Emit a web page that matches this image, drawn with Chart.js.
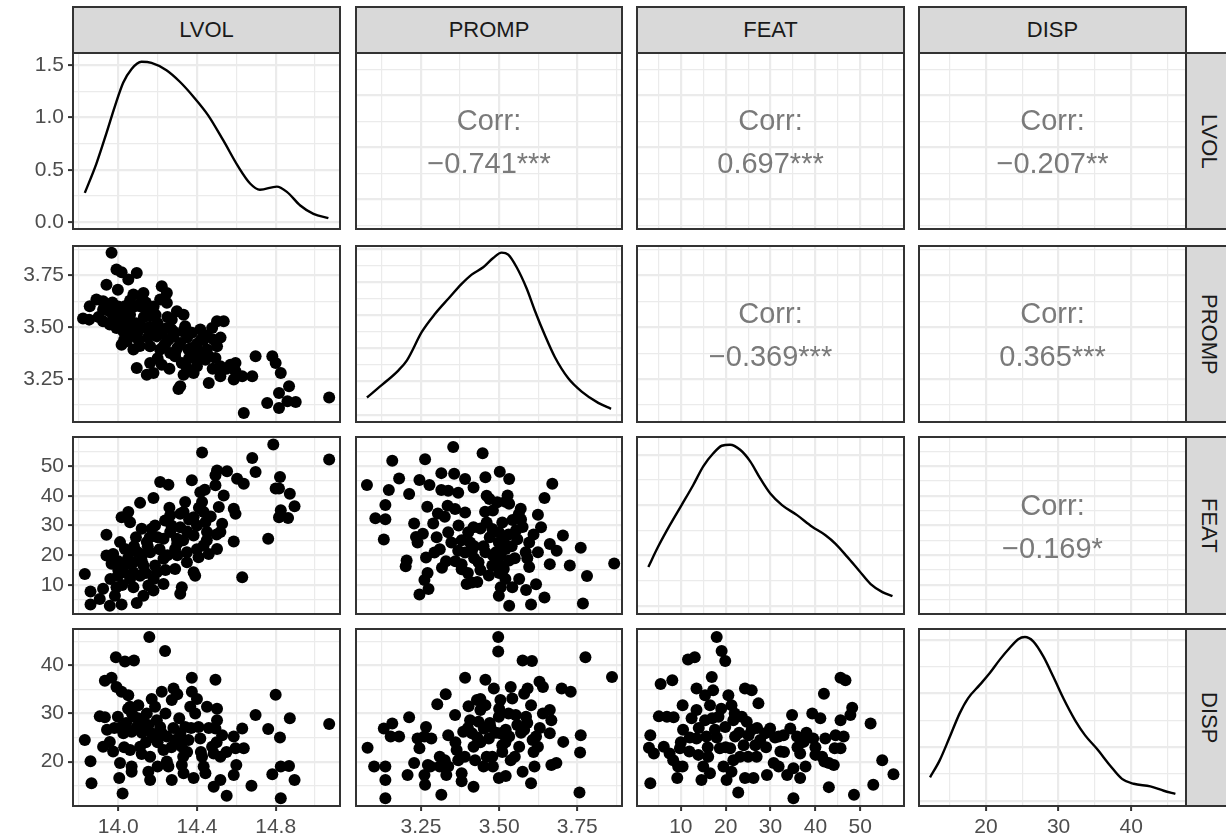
<!DOCTYPE html>
<html>
<head>
<meta charset="utf-8">
<script src="https://cdn.jsdelivr.net/npm/chart.js@4.4.0/dist/chart.umd.min.js"></script>
<style>
  body { margin: 0; background: #fff; }
  #wrap { position: relative; width: 1226px; height: 840px; overflow: hidden; font-family: "Liberation Sans", Arial, sans-serif; }
  canvas { position: absolute; }
  .strip { position: absolute; background: #d9d9d9; border: 2px solid #333; box-sizing: border-box; color: #1a1a1a;
           font-size: 22px; display: flex; align-items: center; justify-content: center; }
  .vstrip { writing-mode: vertical-rl; }
  .corr { position: absolute; color: #7a7a7a; font-size: 29px; text-align: center; line-height: 43px; }
</style>
</head>
<body>
<div id="wrap"></div>
<script>
const vars = ['LVOL', 'PROMP', 'FEAT', 'DISP'];

// axis ranges and ticks
const lvolRange = [13.77, 15.127];
const lvolMajor = [14.0, 14.4, 14.8];
const lvolLabels = ['14.0', '14.4', '14.8'];
const lvolMinor = [13.8, 14.2, 14.6, 15.0];

const prompRange = [3.042, 3.893];
const prompMajor = [3.25, 3.5, 3.75];
const prompLabels = ['3.25', '3.50', '3.75'];
const prompMinor = [3.125, 3.375, 3.625, 3.875];

const featRange = [0.23, 59.75];
const featMajor = [10, 20, 30, 40, 50];
const featLabels = ['10', '20', '30', '40', '50'];
const featMinor = [5, 15, 25, 35, 45, 55];

const dispRange = [10.78, 47.55];
const dispMajor = [20, 30, 40];
const dispLabels = ['20', '30', '40'];
const dispMinor = [15, 25, 35, 45];

// density y axes (diagonal)
const lvolDensRange = [-0.064, 1.614];
const lvolDensMajor = [0, 0.5, 1.0, 1.5];
const lvolDensLabels = ['0.0', '0.5', '1.0', '1.5'];
const lvolDensMinor = [0.25, 0.75, 1.25];

const prompDensRange = [-0.108, 2.54];
const prompDensMajor = [0, 0.5, 1.0, 1.5, 2.0, 2.5];
const prompDensMinor = [0.25, 0.75, 1.25, 1.75, 2.25];

const featDensRange = [-0.00166, 0.03354];
const featDensMajor = [0, 0.01, 0.02, 0.03];
const featDensMinor = [0.005, 0.015, 0.025];

const dispDensRange = [-0.00094, 0.032];
const dispDensMajor = [0, 0.01, 0.02, 0.03];
const dispDensMinor = [0.005, 0.015, 0.025];

// density curves
const lvolDensX = [13.830,13.889,13.940,13.982,14.025,14.067,14.118,14.169,14.245,14.313,14.381,14.457,14.534,14.610,14.670,14.720,14.806,14.857,14.925,14.992,15.068];
const lvolDensY = [0.28,0.56,0.85,1.10,1.33,1.46,1.53,1.52,1.45,1.34,1.20,1.02,0.78,0.53,0.37,0.31,0.34,0.29,0.16,0.08,0.04];

const prompDensX = [3.077,3.125,3.178,3.205,3.253,3.295,3.338,3.380,3.412,3.449,3.481,3.508,3.529,3.556,3.588,3.614,3.646,3.678,3.721,3.764,3.817,3.858];
const prompDensY = [0.26,0.45,0.67,0.82,1.25,1.52,1.75,1.97,2.11,2.22,2.36,2.44,2.41,2.22,1.90,1.57,1.20,0.87,0.55,0.35,0.18,0.09];

const featDensX = [2.76,4.93,7.55,10.17,12.77,15.0,17.24,19.12,20.98,23.22,25.46,27.7,29.94,32.56,35.91,39.27,42.25,44.49,47.11,49.70,52.32,54.94,57.18];
const featDensY = [0.0077,0.0117,0.016,0.020,0.024,0.0277,0.0303,0.0318,0.0320,0.0310,0.0287,0.0253,0.0223,0.020,0.018,0.0157,0.014,0.0123,0.0097,0.007,0.0043,0.0027,0.0019];

const dispDensX = [12.30,13.61,14.98,16.38,17.53,19.14,20.53,21.91,23.29,24.44,25.36,26.51,27.90,29.28,30.66,32.28,33.66,35.28,37.09,38.74,40.34,42.64,44.49,46.09];
const dispDensY = [0.0044,0.0075,0.0118,0.0163,0.0191,0.0216,0.0238,0.0263,0.0285,0.0301,0.0305,0.0297,0.0269,0.0231,0.0191,0.015,0.0122,0.0097,0.0066,0.0041,0.0032,0.0027,0.0019,0.0013];

// scatter pairs [x, y]
const lvolPromp = [[13.966,3.860],[13.991,3.779],[14.017,3.766],[14.051,3.731],[14.094,3.763],[13.940,3.706],[13.998,3.682],[13.889,3.634],[13.855,3.602],[13.923,3.626],[13.821,3.542],[13.852,3.537],[13.923,3.585],[13.923,3.529],[13.974,3.553],[13.991,3.497],[14.034,3.602],[14.060,3.561],[14.077,3.658],[14.128,3.666],[14.111,3.602],[14.145,3.585],[14.162,3.553],[14.213,3.634],[14.221,3.698],[14.247,3.666],[14.247,3.618],[14.068,3.521],[14.111,3.513],[14.145,3.497],[14.179,3.489],[14.026,3.481],[14.060,3.456],[14.017,3.416],[14.077,3.392],[14.102,3.440],[14.162,3.408],[14.162,3.327],[14.094,3.303],[14.145,3.271],[14.179,3.279],[14.221,3.319],[14.230,3.408],[14.247,3.497],[14.272,3.537],[14.298,3.577],[14.332,3.561],[14.281,3.456],[14.315,3.424],[14.264,3.376],[14.289,3.360],[14.340,3.505],[14.374,3.473],[14.417,3.489],[14.434,3.440],[14.323,3.327],[14.349,3.303],[14.383,3.279],[14.332,3.271],[14.315,3.215],[14.306,3.202],[14.357,3.392],[14.400,3.392],[14.451,3.392],[14.443,3.343],[14.485,3.440],[14.502,3.408],[14.477,3.497],[14.502,3.529],[14.536,3.529],[14.494,3.352],[14.519,3.311],[14.460,3.231],[14.519,3.263],[14.570,3.319],[14.596,3.327],[14.596,3.287],[14.587,3.247],[14.630,3.263],[14.681,3.263],[14.698,3.360],[14.638,3.085],[14.783,3.360],[14.800,3.327],[14.826,3.279],[14.757,3.134],[14.817,3.182],[14.817,3.110],[14.868,3.215],[14.860,3.142],[14.902,3.139],[15.072,3.161],[14.043,3.432],[13.957,3.513],[13.983,3.561],[14.196,3.456],[14.213,3.392],[14.417,3.360],[14.400,3.311],[14.255,3.440],[14.00,3.60],[14.03,3.54],[14.08,3.60],[14.13,3.55],[14.05,3.50],[14.10,3.48],[14.15,3.45],[14.20,3.52],[14.18,3.60],[14.25,3.55],[14.35,3.45],[14.30,3.40],[14.40,3.42],[14.45,3.46],[14.26,3.30],[14.36,3.35],[13.95,3.58],[14.12,3.63],[13.90,3.55],[13.93,3.60],[13.97,3.62],[14.02,3.57],[14.06,3.63],[14.09,3.52],[14.14,3.62],[14.16,3.50],[14.19,3.56],[14.22,3.47],[14.24,3.42],[14.27,3.49],[14.29,3.38],[14.33,3.48],[14.37,3.40],[14.39,3.36],[14.42,3.44],[14.46,3.36],[14.48,3.30],[14.52,3.45],[14.55,3.30],[14.03,3.44],[14.07,3.46],[14.11,3.41],[14.00,3.52],[14.20,3.35],[14.28,3.48]];

const lvolFeat = [[13.830,13.7],[13.859,7.8],[13.859,3.4],[13.906,5.3],[13.923,8.7],[13.957,3.0],[13.983,6.4],[14.017,3.4],[14.094,3.9],[13.991,9.2],[13.998,13.1],[13.940,19.9],[13.966,17.1],[13.974,20.4],[14.009,24.4],[13.940,26.9],[14.017,32.8],[14.051,34.5],[14.060,31.1],[14.111,37.6],[14.034,22.1],[14.068,21.6],[14.077,17.6],[14.077,14.3],[14.077,9.2],[14.111,13.1],[14.128,6.4],[14.153,9.8],[14.119,28.9],[14.145,24.4],[14.162,21.0],[14.170,28.9],[14.187,30.0],[14.187,16.5],[14.196,14.3],[14.179,39.2],[14.213,44.6],[14.255,43.7],[14.230,10.3],[14.230,18.8],[14.230,25.5],[14.238,31.7],[14.264,33.4],[14.264,27.8],[14.289,22.1],[14.289,15.4],[14.298,25.5],[14.315,29.4],[14.315,33.9],[14.323,9.2],[14.315,7.0],[14.332,34.5],[14.340,37.9],[14.349,21.0],[14.349,17.6],[14.374,45.2],[14.383,32.8],[14.383,26.6],[14.383,14.3],[14.391,13.1],[14.408,19.3],[14.417,41.2],[14.426,54.5],[14.426,37.9],[14.434,34.5],[14.443,31.1],[14.451,27.8],[14.434,23.3],[14.460,20.4],[14.494,46.9],[14.502,48.5],[14.494,43.5],[14.502,22.1],[14.511,36.2],[14.519,27.8],[14.528,30.6],[14.536,40.1],[14.553,48.2],[14.587,35.6],[14.596,33.9],[14.587,24.6],[14.604,45.7],[14.638,44.0],[14.630,12.6],[14.681,52.7],[14.698,48.0],[14.762,25.5],[14.788,57.2],[14.822,46.3],[14.817,42.4],[14.800,42.4],[14.826,35.1],[14.817,32.8],[14.863,32.5],[14.872,40.7],[14.896,36.5],[15.072,52.2],[14.179,8.1],[14.026,14.3],[14.128,16.5],[14.05,19],[14.10,21],[14.12,18],[14.15,23],[14.20,26],[14.25,20],[14.30,24],[14.35,28],[14.40,30],[14.45,25],[14.00,18],[14.06,12],[13.96,12],[14.00,15],[14.04,17],[14.08,23],[14.12,20],[14.14,14],[14.16,26],[14.21,22],[14.24,15],[14.27,30],[14.33,25],[14.36,32],[14.41,36],[14.44,42],[14.47,33],[14.50,27],[14.40,22],[14.02,10],[14.09,26],[14.18,12],[14.26,36],[14.30,20]];

const prompFeat = [[3.077,43.6],[3.158,51.8],[3.180,45.8],[3.147,41.9],[3.136,36.9],[3.104,32.4],[3.136,32.1],[3.131,25.3],[3.212,40.6],[3.245,45.3],[3.263,52.3],[3.277,43.6],[3.228,30.7],[3.270,36.3],[3.289,30.7],[3.304,34.0],[3.315,47.6],[3.353,56.4],[3.356,47.4],[3.315,41.9],[3.337,41.7],[3.369,41.0],[3.335,36.6],[3.326,32.9],[3.359,35.5],[3.391,45.6],[3.418,42.8],[3.391,34.4],[3.447,54.3],[3.456,46.2],[3.502,48.1],[3.532,45.6],[3.527,40.1],[3.469,38.9],[3.494,37.8],[3.455,34.6],[3.532,37.3],[3.563,33.9],[3.624,33.6],[3.645,39.2],[3.670,44.0],[3.234,26.1],[3.256,27.2],[3.337,27.7],[3.310,22.0],[3.293,20.9],[3.239,24.3],[3.204,18.2],[3.201,16.3],[3.266,19.2],[3.317,15.8],[3.271,14.0],[3.261,11.7],[3.274,8.6],[3.245,6.8],[3.347,24.3],[3.369,21.5],[3.401,27.7],[3.418,29.4],[3.407,24.3],[3.391,20.9],[3.413,21.5],[3.380,17.0],[3.380,15.3],[3.396,10.3],[3.413,10.8],[3.434,17.6],[3.456,21.0],[3.478,28.8],[3.499,27.7],[3.499,24.3],[3.515,25.4],[3.521,22.1],[3.505,19.9],[3.499,17.1],[3.478,16.5],[3.467,13.2],[3.515,15.4],[3.532,18.2],[3.543,31.8],[3.554,28.4],[3.569,35.6],[3.575,29.5],[3.558,25.4],[3.585,21.0],[3.596,24.3],[3.596,16.0],[3.564,12.0],[3.542,9.2],[3.505,9.2],[3.499,6.4],[3.532,3.0],[3.586,8.3],[3.602,3.4],[3.618,10.2],[3.645,5.8],[3.634,29.4],[3.624,21.0],[3.662,23.8],[3.684,21.5],[3.662,17.0],[3.704,26.6],[3.726,16.5],[3.761,22.5],[3.781,13.0],[3.768,3.8],[3.868,17.2],[3.36,18],[3.42,19],[3.45,23],[3.48,20],[3.52,12],[3.47,26],[3.40,14],[3.55,19],[3.51,31],[3.44,29],[3.38,25],[3.42,23],[3.44,15],[3.46,31],[3.49,21],[3.50,14],[3.53,27],[3.54,23],[3.57,32],[3.59,19],[3.48,35],[3.43,11],[3.37,30],[3.33,18],[3.30,26],[3.61,27],[3.52,38],[3.46,40]];

const lvolDisp = [[13.830,24.5],[13.859,20.1],[13.864,15.5],[13.906,29.4],[13.932,29.2],[13.932,36.8],[13.966,37.4],[13.923,23.1],[13.943,26.6],[13.957,24.1],[13.974,22.1],[13.988,41.7],[14.034,40.8],[14.080,41.0],[13.991,35.5],[14.017,34.5],[14.051,33.8],[13.998,29.3],[14.017,27.2],[14.026,25.9],[14.009,19.7],[14.005,16.6],[14.022,13.4],[14.060,31.4],[14.102,31.7],[14.077,29.3],[14.094,27.2],[14.068,26.2],[14.060,22.4],[14.068,19.0],[14.068,17.9],[14.111,23.1],[14.119,21.6],[14.145,30.0],[14.153,27.6],[14.158,45.9],[14.187,31.4],[14.170,25.9],[14.162,21.0],[14.153,17.9],[14.162,16.2],[14.196,28.6],[14.213,27.2],[14.221,34.5],[14.238,43.0],[14.230,22.4],[14.247,20.0],[14.255,19.0],[14.247,25.2],[14.272,32.8],[14.281,35.2],[14.272,16.2],[14.289,24.5],[14.315,25.9],[14.323,23.1],[14.315,25.2],[14.323,19.3],[14.332,17.6],[14.340,27.2],[14.357,24.5],[14.366,31.4],[14.374,37.4],[14.374,34.5],[14.383,16.6],[14.391,30.0],[14.408,27.2],[14.417,24.8],[14.426,21.0],[14.434,19.0],[14.451,31.4],[14.443,17.6],[14.477,23.1],[14.485,21.7],[14.485,14.8],[14.494,37.0],[14.502,31.0],[14.502,28.6],[14.494,26.9],[14.519,21.0],[14.519,16.2],[14.528,25.5],[14.551,12.9],[14.587,25.2],[14.596,22.8],[14.600,19.3],[14.587,17.2],[14.630,26.9],[14.638,22.8],[14.677,15.0],[14.698,29.7],[14.762,26.8],[14.800,33.9],[14.822,25.0],[14.783,17.4],[14.826,19.0],[14.868,19.1],[14.872,29.0],[14.896,16.2],[14.826,12.4],[15.072,27.8],[14.04,28],[14.12,26],[14.20,24],[14.28,27],[14.35,22],[14.10,29],[14.18,25],[13.98,27],[14.03,23],[14.07,30],[14.13,28],[14.14,24],[14.17,33],[14.22,26],[14.24,30],[14.27,23],[14.31,29],[14.33,21],[14.37,27],[14.42,22],[14.46,27],[14.50,24],[14.55,22],[14.05,31],[14.20,19],[14.30,34],[14.40,33]];

const prompDisp = [[3.079,22.9],[3.100,19.0],[3.136,19.0],[3.136,16.2],[3.136,12.4],[3.131,26.9],[3.158,27.9],[3.153,25.2],[3.180,25.2],[3.212,29.2],[3.207,17.2],[3.228,19.7],[3.239,24.8],[3.245,22.8],[3.266,27.2],[3.261,25.2],[3.272,19.3],[3.261,17.2],[3.263,15.2],[3.283,24.8],[3.302,31.9],[3.310,19.0],[3.315,13.1],[3.326,20.3],[3.329,34.0],[3.337,25.5],[3.337,19.0],[3.331,17.2],[3.359,29.7],[3.364,22.4],[3.369,20.3],[3.380,17.6],[3.380,15.9],[3.391,37.4],[3.385,26.2],[3.402,31.5],[3.407,28.6],[3.413,25.9],[3.418,23.1],[3.423,20.3],[3.418,14.8],[3.429,32.8],[3.434,28.3],[3.440,30.7],[3.451,26.9],[3.456,31.7],[3.456,37.0],[3.467,24.8],[3.472,27.2],[3.478,21.0],[3.483,35.2],[3.499,29.3],[3.497,45.9],[3.497,42.9],[3.499,16.6],[3.521,17.0],[3.504,32.8],[3.504,25.9],[3.510,23.4],[3.521,26.6],[3.532,25.2],[3.537,20.3],[3.537,35.5],[3.542,33.1],[3.553,29.7],[3.558,27.6],[3.564,23.1],[3.575,41.0],[3.605,40.9],[3.580,34.1],[3.591,35.2],[3.575,17.9],[3.586,29.3],[3.580,26.6],[3.602,31.7],[3.607,24.5],[3.613,19.0],[3.618,25.2],[3.602,15.5],[3.624,23.1],[3.629,36.6],[3.640,35.5],[3.640,30.0],[3.662,30.7],[3.667,28.6],[3.662,25.9],[3.667,19.3],[3.683,19.7],[3.705,24.1],[3.700,35.2],[3.729,34.5],[3.761,25.5],[3.759,21.9],[3.757,13.6],[3.776,41.7],[3.861,37.6],[3.43,25],[3.47,28],[3.51,22],[3.39,21],[3.45,19],[3.53,30],[3.40,27],[3.44,24],[3.46,21],[3.49,26],[3.50,31],[3.52,24],[3.55,21],[3.57,26],[3.59,28],[3.61,22],[3.36,24],[3.31,21],[3.28,19],[3.48,19],[3.44,33],[3.63,27]];

const featDisp = [[3.2,15.5],[3.2,25.5],[2.9,22.9],[4.0,21.7],[5.5,36.1],[5.1,29.4],[6.2,23.1],[6.9,29.3],[8.1,36.9],[8.4,29.2],[7.5,21.7],[8.3,20.3],[9.4,19.0],[9.8,22.8],[10.4,19.0],[9.2,16.6],[10.4,31.7],[10.5,26.6],[11.6,41.2],[13.1,41.7],[11.9,22.1],[12.4,29.0],[13.5,30.7],[13.5,35.2],[13.5,24.8],[13.9,21.4],[14.6,16.2],[15.4,33.8],[15.4,28.6],[15.7,25.2],[16.1,21.0],[16.5,17.6],[16.9,37.6],[16.5,31.7],[17.2,34.8],[17.6,26.6],[18.0,45.9],[19.1,43.0],[19.9,40.9],[18.4,29.3],[18.7,22.8],[19.5,19.0],[19.9,27.2],[20.2,16.2],[20.6,33.8],[21.0,22.8],[21.3,31.7],[21.7,28.6],[21.7,20.3],[22.1,25.2],[21.3,17.9],[22.8,13.6],[23.2,21.0],[23.6,29.3],[24.0,23.4],[24.3,35.2],[24.3,16.6],[24.7,28.3],[25.1,25.5],[25.8,34.8],[25.8,26.6],[26.2,16.6],[26.6,23.4],[26.9,21.0],[27.3,32.1],[27.7,24.5],[28.8,25.9],[29.2,17.2],[29.9,26.9],[30.7,19.7],[31.8,25.2],[32.2,22.1],[31.8,19.0],[32.9,25.5],[33.7,17.2],[34.4,26.9],[34.8,29.7],[35.1,18.6],[35.1,12.4],[35.9,25.2],[36.6,21.7],[36.6,16.6],[37.8,19.0],[37.4,24.1],[39.3,30.0],[39.5,24.8],[40.0,21.4],[41.1,29.0],[41.5,21.0],[41.9,34.1],[42.2,24.8],[43.0,19.7],[43.0,14.7],[44.1,19.3],[44.5,25.5],[44.3,22.8],[45.6,28.6],[45.6,22.8],[45.6,37.4],[46.7,36.9],[46.3,25.2],[47.8,29.7],[48.2,31.2],[48.6,13.1],[52.3,27.9],[52.9,15.2],[54.9,20.3],[57.4,17.4],[12,25],[14,27],[16,23],[18,25],[19,31],[20,23],[22,30],[23,26],[25,21],[27,27],[29,23],[31,25],[33,22],[36,23],[38,26],[40,23],[42,20],[15,19],[17,29],[10,24]];

const corrLabels = [
  { r: 0, c: 1, text: '\u22120.741***' },
  { r: 0, c: 2, text: '0.697***' },
  { r: 0, c: 3, text: '\u22120.207**' },
  { r: 1, c: 2, text: '\u22120.369***' },
  { r: 1, c: 3, text: '0.365***' },
  { r: 2, c: 3, text: '\u22120.169*' }
];

// layout (px)
const colLeft = [73, 356, 637, 919], colRight = [340, 622, 904, 1186];
const rowTop = [53, 246, 437, 629], rowBottom = [229, 422, 614, 806];
const Y_AXIS_W = 73, X_AXIS_H = 30, M = 14;

function tickList(major, labels, minor) {
  const t = major.map((v, i) => ({ value: v, mj: true, lab: labels ? labels[i] : '' }))
    .concat(minor.map(v => ({ value: v, mj: false, lab: '' })));
  return t.sort((a, b) => a.value - b.value);
}

const varSpec = [
  { range: lvolRange, ticks: tickList(lvolMajor, lvolLabels, lvolMinor) },
  { range: prompRange, ticks: tickList(prompMajor, prompLabels, prompMinor) },
  { range: featRange, ticks: tickList(featMajor, featLabels, featMinor) },
  { range: dispRange, ticks: tickList(dispMajor, dispLabels, dispMinor) }
];
const densSpec = [
  { range: lvolDensRange, ticks: tickList(lvolDensMajor, lvolDensLabels, lvolDensMinor) },
  { range: prompDensRange, ticks: tickList(prompDensMajor, null, prompDensMinor) },
  { range: featDensRange, ticks: tickList(featDensMajor, null, featDensMinor) },
  { range: dispDensRange, ticks: tickList(dispDensMajor, null, dispDensMinor) }
];
const densCurves = [[lvolDensX, lvolDensY], [prompDensX, prompDensY], [featDensX, featDensY], [dispDensX, dispDensY]];
const scatterSets = { '1,0': lvolPromp, '2,0': lvolFeat, '2,1': prompFeat, '3,0': lvolDisp, '3,1': prompDisp, '3,2': featDisp };

function scaleCfg(spec, horizontal, labelled) {
  return {
    type: 'linear',
    position: horizontal ? 'bottom' : 'left',
    min: spec.range[0],
    max: spec.range[1],
    bounds: 'data',
    border: { display: false },
    grid: {
      color: '#ebebeb',
      lineWidth: c => (c.tick && c.tick.mj) ? 2.2 : 1.2,
      drawTicks: labelled,
      tickLength: 5,
      tickWidth: 2,
      tickColor: c => (c.tick && c.tick.mj) ? '#333333' : 'rgba(0,0,0,0)'
    },
    ticks: {
      display: labelled,
      autoSkip: false,
      maxRotation: 0,
      minRotation: 0,
      padding: 4,
      color: '#4d4d4d',
      font: { family: 'Liberation Sans', size: 21 },
      callback: (v, i, t) => t[i].lab
    },
    afterBuildTicks: s => { s.ticks = spec.ticks.map(t => Object.assign({}, t)); },
    afterFit: s => {
      if (horizontal) s.height = labelled ? X_AXIS_H : 0;
      else s.width = labelled ? Y_AXIS_W : 0;
      s.paddingTop = s.paddingBottom = s.paddingLeft = s.paddingRight = 0;
    }
  };
}

const panelBorder = {
  id: 'panelBorder',
  afterDraw(chart) {
    const a = chart.chartArea, ctx = chart.ctx;
    ctx.save();
    ctx.strokeStyle = '#333333';
    ctx.lineWidth = 2;
    ctx.strokeRect(a.left, a.top, a.right - a.left, a.bottom - a.top);
    ctx.restore();
  }
};

const wrap = document.getElementById('wrap');

for (let r = 0; r < 4; r++) {
  for (let c = 0; c < 4; c++) {
    const extraL = c === 0 ? Y_AXIS_W : 0;
    const extraB = r === 3 ? X_AXIS_H : 0;
    const cv = document.createElement('canvas');
    const w = colRight[c] - colLeft[c] + extraL + 2 * M;
    const h = rowBottom[r] - rowTop[r] + extraB + 2 * M;
    cv.width = w; cv.height = h;
    cv.style.width = w + 'px'; cv.style.height = h + 'px';
    cv.style.left = (colLeft[c] - extraL - M) + 'px';
    cv.style.top = (rowTop[r] - M) + 'px';
    wrap.appendChild(cv);

    let datasets = [];
    let ySpec = varSpec[r];
    if (r === c) {
      ySpec = densSpec[r];
      const [xs, ys] = densCurves[r];
      datasets.push({
        data: xs.map((x, i) => ({ x: x, y: ys[i] })),
        showLine: true, borderColor: '#000', borderWidth: 2.4, pointRadius: 0,
        cubicInterpolationMode: 'monotone', clip: 0
      });
    } else if (r > c) {
      const pts = scatterSets[r + ',' + c];
      datasets.push({
        data: pts.map(p => ({ x: p[0], y: p[1] })),
        pointRadius: 6, pointBackgroundColor: '#000', pointBorderWidth: 0, clip: 0
      });
    }

    new Chart(cv, {
      type: 'scatter',
      data: { datasets: datasets },
      options: {
        responsive: false,
        animation: false,
        devicePixelRatio: 1,
        events: [],
        layout: { padding: M, autoPadding: false },
        plugins: { legend: { display: false }, tooltip: { enabled: false } },
        scales: {
          x: scaleCfg(varSpec[c], true, r === 3),
          y: scaleCfg(ySpec, false, c === 0)
        }
      },
      plugins: [panelBorder]
    });
  }
}

// correlation text
corrLabels.forEach(o => {
  const d = document.createElement('div');
  d.className = 'corr';
  const cy = (rowTop[o.r] + rowBottom[o.r]) / 2 + 1;
  d.style.left = colLeft[o.c] + 'px';
  d.style.width = (colRight[o.c] - colLeft[o.c]) + 'px';
  d.style.top = (cy - 43) + 'px';
  d.innerHTML = 'Corr:<br>' + o.text;
  wrap.appendChild(d);
});

// strips
vars.forEach((name, i) => {
  const t = document.createElement('div');
  t.className = 'strip';
  t.style.left = (colLeft[i] - 1) + 'px';
  t.style.top = '6px';
  t.style.width = (colRight[i] - colLeft[i] + 2) + 'px';
  t.style.height = '48px';
  t.textContent = name;
  wrap.appendChild(t);

  const s = document.createElement('div');
  s.className = 'strip vstrip';
  s.style.left = (colRight[3] - 1) + 'px';
  s.style.top = (rowTop[i] - 1) + 'px';
  s.style.width = '47px';
  s.style.height = (rowBottom[i] - rowTop[i] + 2) + 'px';
  s.textContent = name;
  wrap.appendChild(s);
});
</script>
</body>
</html>
